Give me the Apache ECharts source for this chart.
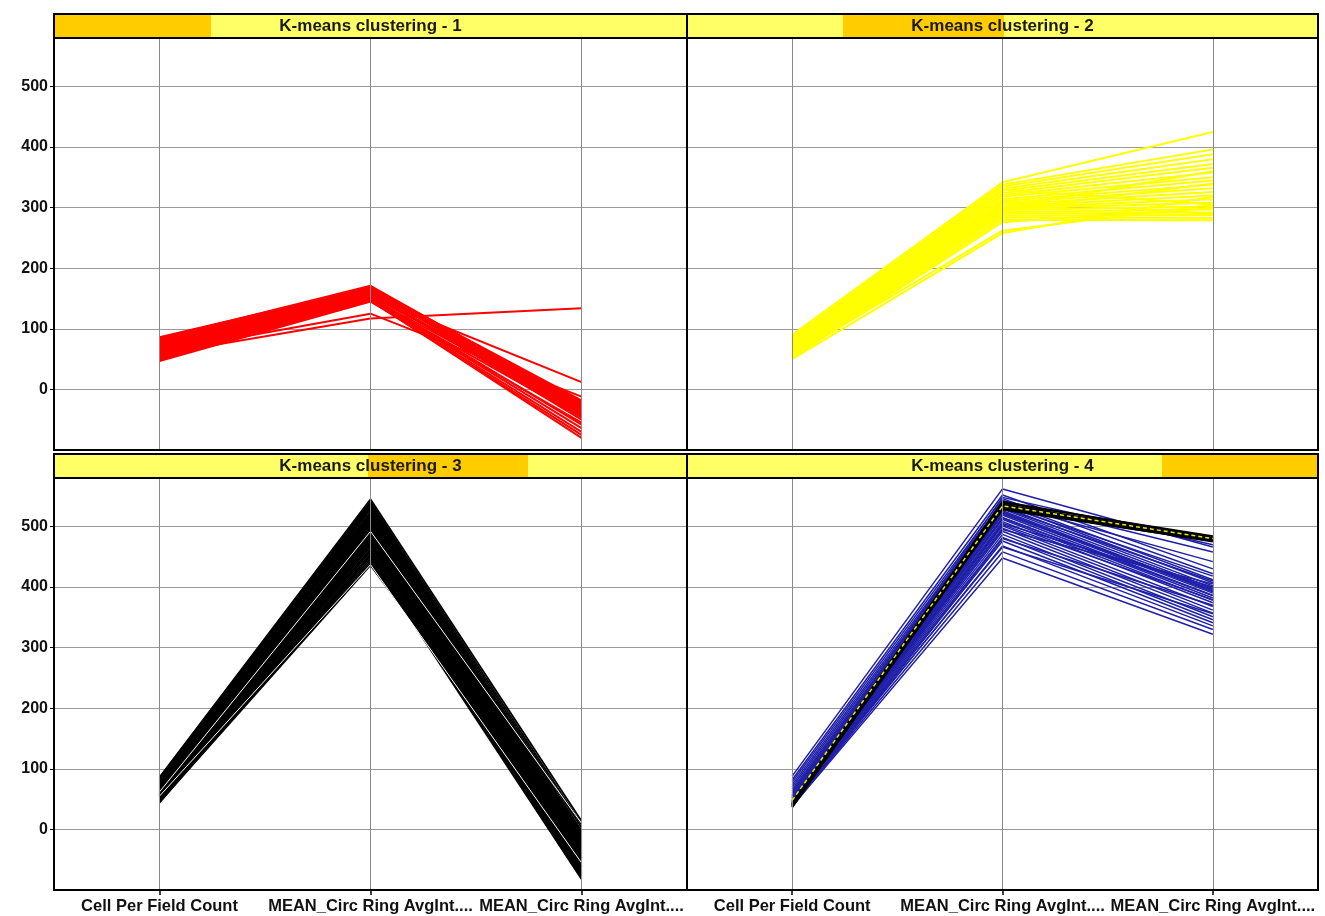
<!DOCTYPE html>
<html>
<head>
<meta charset="utf-8">
<script src="https://cdn.jsdelivr.net/npm/echarts@6/dist/echarts.min.js"></script>
<style>
html,body{margin:0;padding:0;background:#fff;}
#chart{width:1325px;height:916px;}
</style>
</head>
<body>
<div id="chart"></div>
<script>
// ---------- DATA ----------
const categories = ['Cell Per Field Count', 'MEAN_Circ Ring AvgInt....', 'MEAN_Circ Ring AvgInt....'];
const yTickLabels = [0, 100, 200, 300, 400, 500];
const panelTitles = ['K-means clustering - 1', 'K-means clustering - 2', 'K-means clustering - 3', 'K-means clustering - 4'];

// cluster 1 (red): [Cell Per Field Count, MEAN_Circ 1, MEAN_Circ 2]
const cluster1 = [
  [86,168,-18],[84,171,-25],[82,166,-30],[80,169,-22],[78,164,-35],[77,170,-28],
  [75,162,-20],[74,167,-40],[72,160,-26],[71,165,-32],[70,158,-45],[68,163,-24],
  [67,156,-36],[66,161,-50],[64,154,-30],[63,159,-42],[62,152,-58],[60,157,-33],
  [59,150,-64],[58,155,-27],[56,148,-70],[55,153,12],[54,147,-80],[52,151,-38],
  [50,146,-75],[49,149,-46],[47,145,-55],[62,125,-12],[58,117,134]
];

// cluster 2 (yellow)
const cluster2 = [
  [90,342,425],[87,338,396],[85,335,388],[83,331,380],[81,328,372],[80,324,366],
  [78,321,358],[76,318,350],[75,314,345],[73,311,338],[71,308,332],[70,305,326],
  [68,302,320],[66,300,314],[65,298,308],[63,296,302],[61,293,297],[60,290,292],
  [58,287,288],[56,284,283],[54,280,279],[52,276,300],[57,262,305],[50,258,318],
  [66,330,305],[72,300,360],[62,310,290],[78,296,340]
];

// cluster 3 (black)
const cluster3 = [
  [86,545,14],[85,541,8],[83,537,3],[82,534,-2],[80,531,-6],[79,528,-11],
  [78,524,-14],[76,521,-17],[75,518,-21],[74,516,-24],[72,512,-27],[71,509,-30],
  [70,506,-33],[69,503,-36],[67,500,-39],[66,497,-41],[65,494,-44],[64,491,-47],
  [62,488,-50],[61,485,-53],[60,482,-55],[58,479,-58],[57,476,-61],[56,473,-63],
  [55,470,-66],[54,467,-69],[52,463,-72],[51,459,-74],[50,455,-77],[49,451,-80],
  [48,447,-82],[47,443,-60],[46,439,-45],[45,436,-30],[44,452,-70],[59,530,-48],
  [53,515,-8],[68,474,-36],[63,498,-73],[57,540,-20],[73,460,-58]
];
// thin light lines visible inside cluster 3
const cluster3Light = [
  [62,492,10],[55,437,-55]
];

// cluster 4 (blue / black / yellow dashed)
const cluster4Blue = [
  [88,562,466],[82,552,430],[78,546,422],[74,541,412],[70,537,407],[66,533,402],
  [63,529,398],[60,526,394],[57,522,390],[55,519,386],[52,515,382],[50,512,378],
  [48,508,374],[47,505,400],[46,501,368],[45,497,362],[44,492,357],[43,487,351],
  [42,482,346],[41,476,341],[40,468,336],[39,458,330],[38,448,322],[41,521,396],
  [44,530,410],[47,538,442],[51,543,458],[54,548,470],[45,514,386],[49,503,379],
  [53,495,405],[37,480,370],[43,466,356],[56,535,418],[40,524,392]
];
const cluster4Black = [
  [40,536,481],[38,533,478],[42,539,484],[36,530,475],[44,541,482],[39,528,476],
  [37,534,479],[41,531,477]
];
const cluster4Yellow = [
  [48,534,480]
];

// ---------- LAYOUT ----------
const grids = [
  {left: 54, top: 38, width: 633, height: 412},
  {left: 687, top: 38, width: 631, height: 412},
  {left: 54, top: 478, width: 633, height: 412},
  {left: 687, top: 478, width: 631, height: 412}
];
const goldParts = [[54, 211], [843, 1004], [368, 528], [1162, 1318]];

const labelFont = 'Liberation Sans, Arial, sans-serif';

const xAxes = grids.map((g, i) => ({
  type: 'category',
  gridIndex: i,
  data: categories,
  boundaryGap: true,
  axisLine: {show: true, onZero: false, lineStyle: {color: '#000', width: 2}},
  axisTick: {show: i >= 2, alignWithLabel: true, length: 5, lineStyle: {color: '#000', width: 1.5}},
  axisLabel: {
    show: i >= 2, interval: 0, margin: 8,
    fontFamily: labelFont, fontWeight: 'bold', fontSize: 16.5, color: '#111'
  },
  splitLine: {show: false}
}));

const yAxes = grids.map((g, i) => ({
  type: 'value',
  gridIndex: i,
  min: -100, max: 580, interval: 100,
  axisLine: {show: true, lineStyle: {color: '#000', width: 2}},
  axisTick: {show: i % 2 === 0, length: 4, customValues: yTickLabels, lineStyle: {color: '#000'}},
  axisLabel: {
    show: i % 2 === 0, margin: 6, customValues: yTickLabels,
    fontFamily: labelFont, fontWeight: 'bold', fontSize: 16, color: '#111',
    formatter: v => yTickLabels.indexOf(v) >= 0 ? String(v) : ''
  },
  splitLine: {show: true, lineStyle: {color: '#9a9a9a', width: 1}}
}));

const series = [];
function addLines(arr, gi, color, width, extra) {
  arr.forEach(row => {
    series.push(Object.assign({
      type: 'line', xAxisIndex: gi, yAxisIndex: gi,
      data: row, showSymbol: false, symbol: 'none', silent: true,
      lineStyle: {color: color, width: width},
      animation: false, z: 3
    }, extra || {}));
  });
}
// vertical category lines
grids.forEach((g, gi) => {
  series.push({
    type: 'line', xAxisIndex: gi, yAxisIndex: gi, data: [], silent: true,
    markLine: {
      silent: true, symbol: 'none', animation: false,
      label: {show: false},
      lineStyle: {color: '#8a8a8a', width: 1, type: 'solid'},
      data: categories.map((c, k) => ({xAxis: k}))
    }
  });
});
addLines(cluster1, 0, '#ff0000', 2);
addLines(cluster2, 1, '#ffff00', 2);
addLines(cluster3, 2, '#000000', 1.8);
addLines(cluster3Light, 2, '#ffffff', 1, {z: 4});
addLines(cluster4Blue, 3, '#1f1fa8', 1.5);
addLines(cluster4Black, 3, '#000000', 1.8, {z: 4});
addLines(cluster4Yellow, 3, '#e8e800', 1.5, {z: 5, lineStyle: {color: '#e8e800', width: 1.5, type: [4, 3]}});

// title bars
const graphic = [];
grids.forEach((g, i) => {
  const y = g.top - 24;
  graphic.push({type: 'rect', shape: {x: g.left, y: y, width: g.width, height: 24}, style: {fill: '#ffff66'}, z: 10, silent: true});
  graphic.push({type: 'rect', shape: {x: goldParts[i][0], y: y, width: goldParts[i][1] - goldParts[i][0], height: 24}, style: {fill: '#ffcc00'}, z: 11, silent: true});
  graphic.push({type: 'rect', shape: {x: g.left, y: y, width: g.width, height: 24}, style: {fill: 'none', stroke: '#000', lineWidth: 2}, z: 12, silent: true});
  graphic.push({type: 'text', x: g.left + g.width / 2, y: y + 12, z: 13, silent: true,
    style: {text: panelTitles[i], fill: '#1a1a1a', font: 'bold 17px Liberation Sans, Arial, sans-serif', align: 'center', verticalAlign: 'middle'}});
  graphic.push({type: 'rect', shape: {x: g.left, y: g.top, width: g.width, height: g.height}, style: {fill: 'none', stroke: '#000', lineWidth: 2}, z: 12, silent: true});
});

const chart = echarts.init(document.getElementById('chart'), null, {renderer: 'canvas'});
chart.setOption({
  backgroundColor: '#ffffff',
  animation: false,
  grid: grids.map(g => Object.assign({containLabel: false}, g)),
  xAxis: xAxes,
  yAxis: yAxes,
  series: series,
  graphic: graphic
});
</script>
</body>
</html>
